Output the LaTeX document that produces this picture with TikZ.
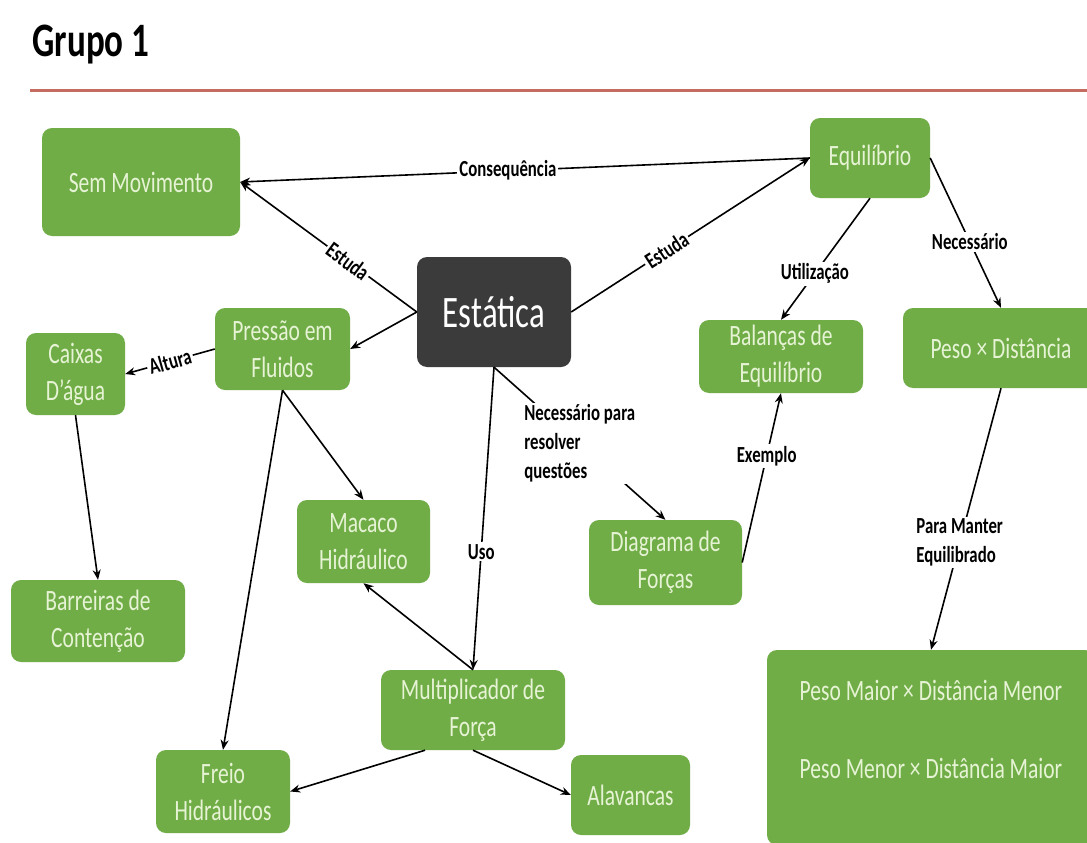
\documentclass[tikz,border=0pt]{standalone}
\usepackage{fontspec}
\setmainfont{Carlito}[FakeStretch=0.73]
\usetikzlibrary{arrows.meta}
\definecolor{boxgreen}{RGB}{112,173,71}
\definecolor{boxdark}{RGB}{59,59,59}
\definecolor{boxtext}{RGB}{230,243,212}
\definecolor{rulered}{RGB}{196,108,96}

\begin{document}
\begin{tikzpicture}[x=1pt,y=-1pt,
		box/.style={rectangle,rounded corners=10pt,fill=boxgreen,text=boxtext,align=center,
			inner sep=0pt,font=\fontsize{29.5}{37}\selectfont},
		link/.style={line width=1.6pt,-{Stealth[length=10pt,width=8pt]}},
		word/.style={fill=white,inner sep=2pt,align=left,font=\bfseries\fontsize{23}{29}\selectfont}]
			\path[use as bounding box,fill=white] (0,0) rectangle (1087,843);
			\clip (0,0) rectangle (1087,843);
			\node[anchor=base west,font=\bfseries\fontsize{48}{52}\selectfont] (titulo) at (29,57) {Grupo 1};
			\draw[rulered,line width=3pt] (30,90) -- (1087,90);

			\node[box,fill=boxdark,text=white,minimum width=154pt,minimum height=110pt,
				font=\fontsize{45}{50}\selectfont] (estatica) at (494,312) {Estática};
			\node[box,minimum width=198pt,minimum height=108pt] (semmov) at (141,182) {Sem Movimento};
			\node[box,minimum width=120pt,minimum height=80pt] (equil) at (870,158) {Equilíbrio};
			\node[box,minimum width=135pt,minimum height=82pt] (pressao) at (282.5,349) {Pressão em\\Fluidos};
			\node[box,minimum width=99pt,minimum height=82pt] (caixas) at (75.5,374) {Caixas\\D’água};
			\node[box,minimum width=164pt,minimum height=73pt] (balancas) at (781,356.5) {Balanças de\\Equilíbrio};
			\node[box,minimum width=196pt,minimum height=80pt] (pesodist) at (1001,348) {Peso × Distância};
			\node[box,minimum width=133pt,minimum height=83pt] (macaco) at (363.5,541.5) {Macaco\\Hidráulico};
			\node[box,minimum width=153pt,minimum height=85pt] (diagrama) at (665.5,562.5) {Diagrama de\\Forças};
			\node[box,minimum width=174pt,minimum height=82pt] (barreiras) at (98,621) {Barreiras de\\Contenção};
			\node[box,minimum width=184pt,minimum height=80pt] (multip) at (473,710) {Multiplicador de\\Força};
			\node[box,minimum width=134pt,minimum height=83pt] (freio) at (223,791.5) {Freio\\Hidráulicos};
			\node[box,minimum width=119pt,minimum height=80pt] (alavancas) at (630.5,795) {Alavancas};
			\node[box,minimum width=328pt,minimum height=195pt] (pesomaior) at (931,747.5)
				{Peso Maior × Distância Menor\\[41pt]Peso Menor × Distância Maior\\ \mbox{}};

			\draw[link] (equil.west) -- node[word,pos=0.53] {Consequência} (semmov.east);
			\draw[link] (estatica.west) -- node[word,sloped,pos=0.39] {Estuda} (semmov.east);
			\draw[link] (estatica.east) -- node[word,sloped,pos=0.4] {Estuda} (equil.west);
			\draw[link] (estatica.west) -- (pressao.east);
			\draw[link] (pressao.west) -- node[word,sloped] {Altura} (caixas.east);
			\draw[link] (equil.south) -- node[word,pos=0.62] {Utilização} (balancas.north);
			\draw[link] (equil.east) -- node[word,pos=0.56] {Necessário} (pesodist.north);
			\draw[link] (estatica.south) -- node[word] {Necessário para\\resolver\\questões} (diagrama.north);
			\draw[link] (estatica.south) -- node[word,pos=0.61] {Uso} (multip.north);
			\draw[link] (diagrama.east) -- node[word,pos=0.63] {Exemplo} (balancas.south);
			\draw[link] (pesodist.south) -- node[word,pos=0.59] {Para Manter\\Equilibrado} (pesomaior.north);
			\draw[link] (caixas.south) -- (barreiras.north);
			\draw[link] (pressao.south) -- (macaco.north);
			\draw[link] (pressao.south) -- (freio.north);
			\draw[link] (multip.north) -- (macaco.south);
			\draw[link] (multip.220) -- (freio.east);
			\draw[link] (multip.south) -- (alavancas.west);
\end{tikzpicture}
\end{document}
